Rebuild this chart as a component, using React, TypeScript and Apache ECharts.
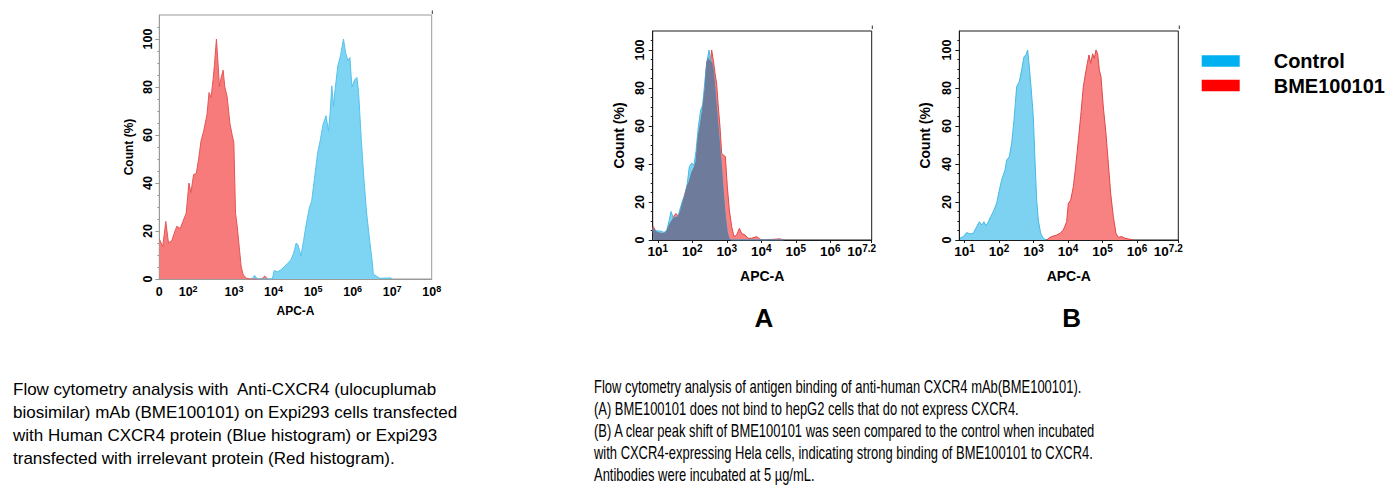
import React, { useEffect, useRef } from "react";
import * as echarts from "echarts";

const FONT = "Liberation Sans, Arial, Helvetica, sans-serif";

// ---------- Left panel (Expi293) : x is the display channel (decades), y is Count (%)
const leftXTicks = [1.11, 1.84, 3, 4, 5, 6, 7, 8];
const leftXLabels = ["0", "10^2", "10^3", "10^4", "10^5", "10^6", "10^7", "10^8"];

const leftRedX = [1.113, 1.198, 1.274, 1.342, 1.427, 1.486, 1.554, 1.639, 1.707, 1.791, 1.859, 1.91, 1.978, 2.046, 2.105, 2.165, 2.232, 2.317, 2.368, 2.419, 2.47, 2.504, 2.555, 2.589, 2.631, 2.674, 2.724, 2.767, 2.826, 2.894, 2.953, 2.996, 3.038, 3.081, 3.131, 3.182, 3.233, 3.318, 3.4, 3.7, 3.776, 3.85];
const leftRedY = [16.6, 13.5, 24, 15, 16, 19, 22, 21, 24, 27.5, 40, 36, 43.5, 44, 50, 57.5, 61.6, 68.6, 77.7, 75.6, 83, 89, 100, 91.6, 80, 84, 87, 80, 76, 65, 60, 56.8, 27.5, 22, 13.5, 5, 1.7, 0.3, 0, 0, 1.2, 0];

const leftBlueX = [3.45, 3.52, 3.59, 3.971, 4.014, 4.098, 4.183, 4.268, 4.353, 4.438, 4.506, 4.573, 4.624, 4.692, 4.76, 4.828, 4.904, 4.964, 5.031, 5.116, 5.184, 5.252, 5.328, 5.388, 5.43, 5.473, 5.515, 5.557, 5.625, 5.693, 5.769, 5.82, 5.88, 5.931, 5.982, 6.049, 6.109, 6.151, 6.219, 6.287, 6.354, 6.431, 6.49, 6.524, 6.6, 6.685, 6.9, 6.95, 7.0];
const leftBlueY = [0, 1.5, 0, 0, 3.5, 3, 3.8, 5, 6.5, 8, 10.7, 15, 14, 9.6, 16, 23, 29.6, 32.4, 41.4, 52.6, 58, 64.4, 68, 61.6, 69, 80.5, 72, 79, 88.8, 93, 100, 94.4, 91, 92.3, 80, 83, 84, 77.7, 58, 41.4, 27.5, 16, 8, 2, 1.2, 0.3, 0.4, 0.5, 0];

// ---------- Panels A and B : x is log10(APC-A), y is Count (%)
const abXTicks = [1, 2, 3, 4, 5, 6, 7.2];
const abXLabels = ["10^1", "10^2", "10^3", "10^4", "10^5", "10^6", "10^7.2"];
const yTicks = [0, 20, 40, 60, 80, 100];

// Panel A (hepG2) - both series sampled on the same x positions
const aX = [0.85, 0.868, 0.946, 1.023, 1.1, 1.178, 1.255, 1.332, 1.381, 1.448, 1.526, 1.593, 1.661, 1.719, 1.787, 1.854, 1.912, 1.98, 2.047, 2.105, 2.173, 2.241, 2.299, 2.366, 2.415, 2.453, 2.482, 2.521, 2.56, 2.608, 2.656, 2.705, 2.753, 2.801, 2.85, 2.898, 2.956, 3.014, 3.072, 3.14, 3.207, 3.285, 3.362, 3.43, 3.526, 3.623, 3.719, 3.864, 3.961, 4.058, 4.541, 4.638];
const aControl = [5.5, 6.1, 4.8, 4.8, 4.6, 4.0, 5.0, 10.5, 15, 11.4, 11.8, 13, 17.5, 21, 23.7, 29.8, 38.6, 40.4, 39.5, 46.5, 59.6, 68.4, 71, 84.2, 93, 97, 100, 95, 93.5, 89, 79, 68, 57.9, 47.4, 36.8, 24.6, 12.3, 3.5, 0.4, 0, 0, 0, 0, 0, 0, 0, 0, 0, 0, 0, 0, 0];
const aBME = [6.5, 7, 4.4, 3.8, 3.5, 3.5, 4.5, 7.9, 9.5, 12.3, 14, 12.3, 15.5, 19.5, 24.6, 28.5, 31, 35.5, 38, 41, 55, 62, 69.3, 79, 93, 95.5, 95, 94, 100, 94.5, 88, 82, 70, 59.6, 45.6, 44.7, 43.9, 28, 15.8, 7, 1.8, 2.6, 6.1, 3.5, 2.6, 0.9, 0.9, 1.8, 0.4, 0, 0.6, 0];

// Panel B (Hela)
const bControlX = [0.87, 0.967, 1.064, 1.16, 1.257, 1.354, 1.431, 1.499, 1.566, 1.624, 1.692, 1.76, 1.837, 1.933, 2.001, 2.078, 2.175, 2.223, 2.301, 2.368, 2.436, 2.513, 2.59, 2.658, 2.726, 2.784, 2.832, 2.88, 2.929, 2.996, 3.045, 3.093, 3.141, 3.209, 3.286, 3.364];
const bControlY = [0.9, 1.8, 3.9, 3.2, 3.5, 7, 9.6, 7.9, 9.6, 7.4, 9.6, 12.3, 15, 19.3, 25.4, 31.6, 36.8, 42, 43.9, 50.9, 63, 80.7, 83.3, 89.5, 96.5, 97.4, 100, 91.2, 80.7, 65, 42, 21, 10.5, 3.5, 0.9, 0];
const bBMEX = [3.383, 3.48, 3.576, 3.673, 3.77, 3.866, 3.963, 4.011, 4.079, 4.156, 4.224, 4.301, 4.369, 4.446, 4.494, 4.562, 4.61, 4.659, 4.717, 4.765, 4.813, 4.862, 4.91, 4.958, 5.026, 5.103, 5.171, 5.239, 5.316, 5.393, 5.461, 5.558, 5.654, 5.799, 5.896];
const bBMEY = [0, 1.4, 2.1, 2.6, 3.5, 5.3, 9.6, 19.3, 21, 28, 38.6, 52.6, 65, 80.7, 86, 93, 97.4, 93, 98, 95.6, 100, 98, 89.5, 86, 70, 56, 40.4, 24.6, 12.3, 3.5, 1.4, 1.8, 0.9, 0.4, 0];

const leftCaption = [
  "Flow cytometry analysis with  Anti-CXCR4 (ulocuplumab",
  "biosimilar) mAb (BME100101) on Expi293 cells transfected",
  "with Human CXCR4 protein (Blue histogram) or Expi293",
  "transfected with irrelevant protein (Red histogram).",
];
const rightCaption = [
  "Flow cytometry analysis of antigen binding of anti-human CXCR4 mAb(BME100101).",
  "(A) BME100101 does not bind to hepG2 cells that do not express CXCR4.",
  "(B) A clear peak shift of BME100101 was seen compared to the control when incubated",
  "with CXCR4-expressing Hela cells, indicating strong binding of BME100101 to CXCR4.",
  "Antibodies were incubated at 5 \u00b5g/mL.",
];

const pairs = (xs: number[], ys: number[]) => xs.map((x, i) => [x, ys[i]]);

const richLabel = (ticks: number[], labels: string[], lastShift: boolean, bSize: number, sSize: number) => ({
  customValues: ticks,
  fontSize: bSize,
  fontWeight: "bold",
  fontFamily: FONT,
  color: "#000",
  lineHeight: bSize + 3,
  formatter: (v: number) => {
    const idx = ticks.findIndex((t) => Math.abs(t - v) < 1e-6);
    if (idx < 0) return "";
    const s = labels[idx];
    const last = lastShift && idx === ticks.length - 1;
    if (s.indexOf("^") < 0) return s;
    const [base, exp] = s.split("^");
    return `${base}{${last ? "sl" : "s"}|${exp}}`;
  },
  rich: {
    s: { fontSize: sSize, fontWeight: "bold", fontFamily: FONT, color: "#000", lineHeight: sSize + 1, verticalAlign: "top" },
    sl: { fontSize: sSize, fontWeight: "bold", fontFamily: FONT, color: "#000", lineHeight: sSize + 1, verticalAlign: "top", padding: [0, 20, 0, 0] },
  },
});

const areaSeries = (name: string, data: number[][], idx: number, fill: string, stroke: string, z: number) => ({
  name,
  type: "line",
  xAxisIndex: idx,
  yAxisIndex: idx,
  data,
  symbol: "none",
  showSymbol: false,
  silent: true,
  z,
  lineStyle: { color: stroke, width: 1 },
  itemStyle: { color: fill },
  areaStyle: { color: fill, opacity: 1 },
});

export default function App() {
  const ref = useRef<HTMLDivElement>(null);
  useEffect(() => {
    if (!ref.current) return;
    const chart = echarts.init(ref.current, undefined, { renderer: "svg" });

    const overlap = aControl.map((v, i) => Math.min(v, aBME[i]));

    const yAxisBase = (idx: number, frame: string, nameSize: number, gap: number, margin: number) => ({
      type: "value",
      gridIndex: idx,
      min: 0,
      max: 110,
      name: "Count (%)",
      nameLocation: "middle",
      nameGap: gap,
      nameTextStyle: { fontSize: nameSize, fontWeight: "bold", fontFamily: FONT, color: "#000" },
      axisLine: { show: true, lineStyle: { color: frame, width: 1 } },
      axisTick: { show: true, customValues: yTicks, length: 4, lineStyle: { color: frame } },
      minorTick: { show: true, splitNumber: 4, length: 2, lineStyle: { color: frame } },
      splitLine: { show: false },
      axisLabel: {
        customValues: yTicks,
        rotate: 90,
        margin,
        fontSize: 12.5,
        fontWeight: "bold",
        fontFamily: FONT,
        color: "#000",
      },
    });

    const xAxisBase = (idx: number, min: number, max: number, ticks: number[], labels: string[], frame: string, nameSize: number, nameGap: number, margin: number, showTicks: boolean, lastShift: boolean, bSize: number, sSize: number) => ({
      type: "value",
      gridIndex: idx,
      min,
      max,
      name: "APC-A",
      nameLocation: "middle",
      nameGap,
      nameTextStyle: { fontSize: nameSize, fontWeight: "bold", fontFamily: FONT, color: "#000" },
      axisLine: { show: true, onZero: false, lineStyle: { color: frame, width: 1 } },
      axisTick: { show: showTicks, customValues: ticks, length: 3, lineStyle: { color: frame } },
      splitLine: { show: false },
      axisLabel: { margin, ...richLabel(ticks, labels, lastShift, bSize, sSize) },
    });

    const option: any = {
      animation: false,
      backgroundColor: "#fff",
      grid: [
        { left: 159.3, top: 15, width: 272.4, height: 264, show: true, borderColor: "#9a9a9a", borderWidth: 1, backgroundColor: "transparent" },
        { left: 652.7, top: 31, width: 219, height: 209, show: true, borderColor: "#1a1a1a", borderWidth: 1, backgroundColor: "transparent" },
        { left: 959.3, top: 31, width: 219, height: 209, show: true, borderColor: "#1a1a1a", borderWidth: 1, backgroundColor: "transparent" },
      ],
      xAxis: [
        xAxisBase(0, 1.11, 8, leftXTicks, leftXLabels, "#9a9a9a", 12, 26, 5.5, false, false, 12.5, 9),
        xAxisBase(1, 0.85, 7.2, abXTicks, abXLabels, "#1a1a1a", 14, 29, 3, true, true, 13.5, 10),
        xAxisBase(2, 0.85, 7.2, abXTicks, abXLabels, "#1a1a1a", 14, 29, 3, true, true, 13.5, 10),
      ],
      yAxis: [
        yAxisBase(0, "#9a9a9a", 12, 24, 5),
        yAxisBase(1, "#1a1a1a", 14, 27, 6),
        yAxisBase(2, "#1a1a1a", 14, 27, 6),
      ],
      legend: {
        orient: "vertical",
        left: 1201.7,
        top: 51,
        padding: 0,
        icon: "rect",
        itemWidth: 38,
        itemHeight: 11.5,
        itemGap: 4.5,
        selectedMode: false,
        textStyle: { fontSize: 20, fontWeight: "bold", fontFamily: FONT, color: "#000", lineHeight: 20, padding: [0, 0, 0, 29] },
        data: [
          { name: "Control", itemStyle: { color: "#00B0F0", borderWidth: 0 } },
          { name: "BME100101", itemStyle: { color: "#FF0000", borderWidth: 0 } },
        ],
      },
      series: [
        areaSeries("Irrelevant protein", pairs(leftRedX, leftRedY), 0, "#F77B7B", "#E35656", 3),
        areaSeries("Human CXCR4", pairs(leftBlueX, leftBlueY), 0, "#7DD4F3", "#56C2EC", 3),
        areaSeries("BME100101", pairs(aX, aBME), 1, "#F88282", "#E04848", 3),
        areaSeries("Control", pairs(aX, aControl), 1, "#7CD2F0", "#45B9E6", 4),
        areaSeries("Overlap", pairs(aX, overlap), 1, "#6E7B9B", "#6E7B9B", 5),
        areaSeries("Control", pairs(bControlX, bControlY), 2, "#7CD2F0", "#45B9E6", 3),
        areaSeries("BME100101", pairs(bBMEX, bBMEY), 2, "#F88282", "#E04848", 3),
      ],
      graphic: [
        { type: "line", shape: { x1: 432.3, y1: 10.5, x2: 432.3, y2: 14 }, style: { stroke: "#333", lineWidth: 1 } },
        { type: "line", shape: { x1: 872.3, y1: 25.5, x2: 872.3, y2: 29 }, style: { stroke: "#333", lineWidth: 1 } },
        { type: "line", shape: { x1: 1179.3, y1: 25.5, x2: 1179.3, y2: 29 }, style: { stroke: "#333", lineWidth: 1 } },
        { type: "text", x: 764, y: 318.3, style: { text: "A", font: `bold 26px ${FONT}`, fill: "#000", textAlign: "center", textVerticalAlign: "middle" } },
        { type: "text", x: 1071.7, y: 318, style: { text: "B", font: `bold 26px ${FONT}`, fill: "#000", textAlign: "center", textVerticalAlign: "middle" } },
        { type: "text", x: 13, y: 378.6, style: { text: leftCaption.join("\n"), font: `17px ${FONT}`, fill: "#000", lineHeight: 22.7, textVerticalAlign: "top" } },
        { type: "text", x: 594, y: 375.2, scaleX: 0.72, style: { text: rightCaption.join("\n"), font: `18px ${FONT}`, fill: "#000", lineHeight: 22.1, textVerticalAlign: "top" } },
      ],
    };

    chart.setOption(option);
    return () => chart.dispose();
  }, []);

  return <div ref={ref} style={{ position: "absolute", left: 0, top: 0, width: 1400, height: 502 }} />;
}
